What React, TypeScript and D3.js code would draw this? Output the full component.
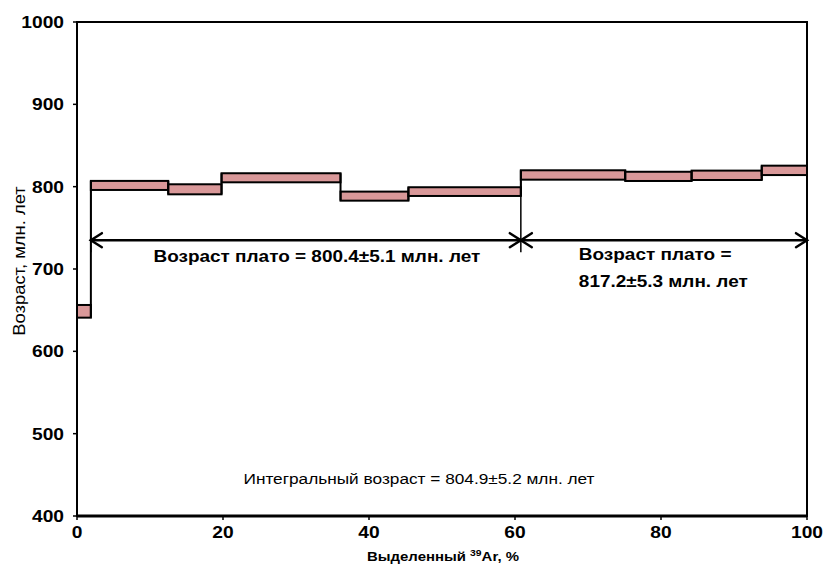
import React from "react";
import * as d3 from "d3";

// cumulative 39Ar released, % (step boundaries)
const stepEdges = [0, 1.9, 12.5, 19.8, 36.1, 45.4, 60.8, 75.1, 84.2, 93.8, 100];
// apparent age of each step, Ma, and its error
const stepAges = [648.6, 801.5, 796.8, 810.8, 788.5, 794.0, 814.2, 812.5, 813.8, 819.8];
const stepErrors = [7.7, 5.5, 6.1, 5.5, 5.5, 5.3, 5.7, 5.6, 5.7, 5.7];

const xTicks = [0, 20, 40, 60, 80, 100];
const yTicks = [400, 500, 600, 700, 800, 900, 1000];

const plateaus = [
  { from: 1.9, to: 60.8, lines: ["Возраст плато = 800.4±5.1 млн. лет"] },
  { from: 60.8, to: 100, lines: ["Возраст плато =", "817.2±5.3 млн. лет"] },
];
const plateauArrowAge = 735;
const integralText = "Интегральный возраст = 804.9±5.2 млн. лет";

const W = 823;
const H = 566;
const margin = { left: 77, right: 16, top: 22, bottom: 50 };
const fill = "#d99899";
const font = "'Liberation Sans', Arial, sans-serif";

// the original lettering is a little wider than Liberation Sans
const SText = ({ x, y, sx = 1.15, rotate = 0, anchor = "start", children, ...rest }) => (
  <text
    transform={`translate(${x},${y}) rotate(${rotate}) scale(${sx},1)`}
    textAnchor={anchor}
    {...rest}
  >
    {children}
  </text>
);

const Arrow = ({ x1, x2, y }) => {
  const h = 11;
  const w = 7;
  return (
    <g stroke="#000" strokeWidth={2.5} fill="none" strokeLinecap="round">
      <line x1={x1} x2={x2} y1={y} y2={y} />
      <polyline points={`${x1 + h},${y - w} ${x1},${y} ${x1 + h},${y + w}`} />
      <polyline points={`${x2 - h},${y - w} ${x2},${y} ${x2 - h},${y + w}`} />
    </g>
  );
};

const App = () => {
  const x = d3.scaleLinear().domain([0, 100]).range([margin.left, W - margin.right]);
  const y = d3.scaleLinear().domain([400, 1000]).range([H - margin.bottom, margin.top]);

  const steps = stepAges.map((age, i) => ({
    x0: stepEdges[i],
    x1: stepEdges[i + 1],
    lo: age - stepErrors[i],
    hi: age + stepErrors[i],
  }));

  const arrowY = y(plateauArrowAge);

  return (
    <svg
      width={W}
      height={H}
      style={{ position: "absolute", left: 0, top: 0, background: "#fff", fontFamily: font }}
    >
      {/* frame */}
      <rect
        x={x(0)}
        y={y(1000)}
        width={x(100) - x(0)}
        height={y(400) - y(1000)}
        fill="none"
        stroke="#000"
        strokeWidth={2}
      />
      <line x1={x(0)} x2={x(100)} y1={y(400)} y2={y(400)} stroke="#000" strokeWidth={3} />

      {/* ticks */}
      {xTicks.map(t => (
        <g key={"x" + t}>
          <line x1={x(t)} x2={x(t)} y1={y(400)} y2={y(400) + 4} stroke="#000" strokeWidth={1.5} />
          <SText x={x(t)} y={y(400) + 22} sx={1.2} anchor="middle" fontSize={16} fontWeight="bold">
            {t}
          </SText>
        </g>
      ))}
      {yTicks.map(t => (
        <g key={"y" + t}>
          <line x1={x(0) - 4} x2={x(0)} y1={y(t)} y2={y(t)} stroke="#000" strokeWidth={1.5} />
          <SText x={x(0) - 13} y={y(t) + 6} sx={1.2} anchor="end" fontSize={16} fontWeight="bold">
            {t}
          </SText>
        </g>
      ))}

      {/* step spectrum */}
      {steps.map((s, i) => (
        <rect
          key={i}
          x={x(s.x0)}
          y={y(s.hi)}
          width={x(s.x1) - x(s.x0)}
          height={y(s.lo) - y(s.hi)}
          fill={fill}
          stroke="#000"
          strokeWidth={2}
        />
      ))}
      {steps.slice(1).map((s, i) => {
        const p = steps[i];
        return (
          <line
            key={"c" + i}
            x1={x(s.x0)}
            x2={x(s.x0)}
            y1={y(Math.max(p.hi, s.hi))}
            y2={y(Math.min(p.lo, s.lo))}
            stroke="#000"
            strokeWidth={2}
          />
        );
      })}

      {/* plateaus */}
      {plateaus.map((p, i) => {
        const top = steps.find(s => Math.abs(s.x0 - p.from) < 1e-6);
        const x1 = x(p.from);
        const x2 = x(p.to);
        return (
          <g key={"p" + i}>
            {top && (
              <line x1={x1} x2={x1} y1={y(top.hi)} y2={arrowY + 12} stroke="#000" strokeWidth={1.5} />
            )}
            <Arrow x1={x1} x2={x2} y={arrowY} />
            {p.lines.length === 1 ? (
              <SText x={(x1 + x2) / 2 + 11} y={arrowY + 22} anchor="middle" fontSize={16.5} fontWeight="bold">
                {p.lines[0]}
              </SText>
            ) : (
              p.lines.map((l, j) => (
                <SText key={j} x={x1 + 58} y={arrowY + 20 + j * 27} fontSize={16.5} fontWeight="bold">
                  {l}
                </SText>
              ))
            )}
          </g>
        );
      })}

      <SText x={419} y={y(400) - 32} anchor="middle" fontSize={15}>
        {integralText}
      </SText>

      {/* axis titles */}
      <SText x={25} y={261} rotate={-90} anchor="middle" fontSize={16}>
        Возраст, млн. лет
      </SText>
      <SText x={443} y={H - 5} anchor="middle" fontSize={13} fontWeight="bold">
        Выделенный <tspan fontSize={9} dy={-5}>39</tspan>
        <tspan dy={5}>Ar, %</tspan>
      </SText>
    </svg>
  );
};

export default App;
